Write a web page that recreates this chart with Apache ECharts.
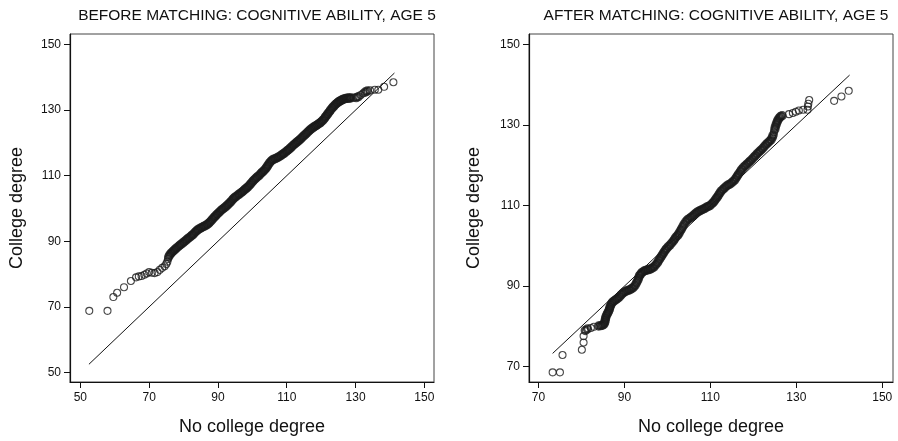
<!DOCTYPE html>
<html>
<head>
<meta charset="utf-8">
<script src="https://cdn.jsdelivr.net/npm/echarts@6/dist/echarts.min.js"></script>
<style>
  html, body { margin: 0; padding: 0; background: #fff; }
  #chart { width: 898px; height: 441px; }
</style>
</head>
<body>
<div id="chart"></div>
<script>
// Q-Q pairs: [no college degree, college degree]
const beforeQuantiles = [
  [52.6, 68.8], [57.9, 68.8], [59.6, 73.0], [60.7, 74.3], [62.7, 76.0], [64.7, 77.9],
  [66.2, 79.0], [67.0, 79.3], [67.8, 79.4], [68.6, 79.8], [69.3, 80.2], [70.0, 80.6],
  [70.8, 80.4], [71.6, 80.3], [72.4, 80.6], [73.1, 81.3], [73.8, 81.9], [74.5, 82.4],
  [75.0, 83.1], [75.3, 83.8], [75.5, 84.6], [75.7, 85.3], [76.0, 85.9], [76.4, 86.4],
  [76.8, 86.8], [77.2, 87.2], [77.6, 87.6], [78.0, 88.0], [78.5, 88.4], [78.9, 88.8],
  [79.3, 89.1], [79.8, 89.5], [80.2, 89.9], [80.7, 90.3], [81.1, 90.7], [81.5, 91.0],
  [82.0, 91.4], [82.4, 91.8], [82.8, 92.1], [83.2, 92.6], [83.6, 93.0], [84.0, 93.4],
  [84.4, 93.7], [84.9, 94.0], [85.3, 94.2], [85.8, 94.5], [86.2, 94.7], [86.7, 95.0],
  [87.1, 95.3], [87.5, 95.7], [87.9, 96.1], [88.3, 96.6], [88.7, 97.1], [89.1, 97.5],
  [89.5, 98.0], [89.9, 98.4], [90.4, 98.9], [90.8, 99.3], [91.2, 99.7], [91.6, 100.0],
  [92.1, 100.4], [92.5, 100.8], [92.9, 101.2], [93.3, 101.6], [93.7, 102.0], [94.1, 102.5],
  [94.5, 103.0], [94.9, 103.4], [95.3, 103.7], [95.8, 104.1], [96.2, 104.4], [96.7, 104.8],
  [97.1, 105.1], [97.5, 105.5], [97.9, 105.9], [98.3, 106.2], [98.7, 106.6], [99.1, 107.0],
  [99.5, 107.5], [99.9, 108.0], [100.3, 108.5], [100.7, 108.9], [101.1, 109.3], [101.5, 109.7],
  [102.0, 110.1], [102.4, 110.6], [102.8, 111.0], [103.2, 111.4], [103.6, 111.8], [104.0, 112.3],
  [104.3, 112.8], [104.6, 113.3], [105.0, 113.9], [105.4, 114.4], [105.8, 114.8], [106.2, 115.0],
  [106.7, 115.2], [107.2, 115.5], [107.6, 115.7], [108.1, 116.0], [108.5, 116.3], [108.9, 116.6],
  [109.3, 116.9], [109.8, 117.3], [110.2, 117.7], [110.6, 118.0], [111.0, 118.4], [111.4, 118.8],
  [111.8, 119.2], [112.2, 119.6], [112.6, 119.9], [113.0, 120.3], [113.4, 120.6], [113.8, 121.0],
  [114.2, 121.4], [114.6, 121.8], [115.0, 122.2], [115.4, 122.6], [115.8, 123.0], [116.2, 123.4],
  [116.6, 123.8], [117.0, 124.2], [117.4, 124.5], [117.8, 124.8], [118.2, 125.1], [118.6, 125.3],
  [119.0, 125.6], [119.4, 125.9], [119.8, 126.2], [120.2, 126.6], [120.6, 127.0], [121.0, 127.5],
  [121.3, 128.0], [121.7, 128.5], [122.0, 129.0], [122.4, 129.5], [122.7, 130.0], [123.1, 130.5],
  [123.4, 130.9], [123.8, 131.3], [124.1, 131.7], [124.5, 132.0], [124.8, 132.3], [125.2, 132.6],
  [125.5, 132.8], [125.9, 133.0], [126.2, 133.2], [126.6, 133.4], [127.0, 133.5], [127.4, 133.6],
  [127.8, 133.6], [128.2, 133.7], [128.6, 133.7], [129.4, 133.8], [130.2, 133.8], [130.8, 134.1],
  [131.5, 134.6], [132.2, 135.1], [132.8, 135.5], [133.4, 135.8], [134.2, 136.0], [135.6, 136.2],
  [136.6, 136.2], [138.3, 137.1], [141.0, 138.5]
];

const afterQuantiles = [
  [73.3, 68.6], [75.0, 68.6], [75.6, 72.9], [80.1, 74.2], [80.5, 76.0], [80.5, 77.6],
  [80.9, 79.0], [81.4, 79.4], [82.2, 79.6], [82.9, 79.9], [84.0, 80.1],
  [84.5, 80.2], [84.9, 80.3], [85.2, 80.5], [85.4, 80.9], [85.5, 81.4], [85.6, 81.9],
  [85.7, 82.4], [85.9, 82.9], [86.1, 83.3], [86.3, 83.7], [86.5, 84.2], [86.6, 84.7],
  [86.8, 85.2], [87.0, 85.7], [87.3, 86.1], [87.7, 86.4], [88.1, 86.7], [88.5, 87.0],
  [88.9, 87.4], [89.3, 87.9], [89.7, 88.3], [90.1, 88.6], [90.5, 88.8], [90.9, 89.0],
  [91.3, 89.1], [91.7, 89.4], [92.1, 89.7], [92.5, 90.2], [92.8, 90.8], [93.1, 91.4],
  [93.3, 92.0], [93.5, 92.6], [93.8, 93.0], [94.1, 93.4], [94.5, 93.7], [94.9, 93.9],
  [95.3, 94.0], [95.7, 94.1], [96.1, 94.3], [96.5, 94.5], [96.9, 94.8], [97.3, 95.3],
  [97.7, 95.8], [98.0, 96.4], [98.3, 96.9], [98.6, 97.4], [98.9, 97.9], [99.2, 98.4],
  [99.5, 98.9], [99.8, 99.3], [100.2, 99.8], [100.6, 100.2], [101.0, 100.7], [101.4, 101.2],
  [101.7, 101.7], [102.0, 102.2], [102.4, 102.6], [102.7, 103.1], [103.0, 103.7], [103.3, 104.2],
  [103.6, 104.8], [103.9, 105.4], [104.3, 106.0], [104.7, 106.5], [105.1, 106.8], [105.5, 107.1],
  [105.9, 107.4], [106.3, 107.8], [106.7, 108.2], [107.1, 108.5], [107.5, 108.7], [107.9, 108.9],
  [108.3, 109.1], [108.7, 109.3], [109.1, 109.6], [109.5, 109.8], [109.9, 110.0], [110.3, 110.4],
  [110.7, 110.8], [111.0, 111.2], [111.3, 111.7], [111.6, 112.1], [111.9, 112.6], [112.2, 113.1],
  [112.5, 113.6], [112.9, 114.0], [113.3, 114.4], [113.7, 114.8], [114.1, 115.1], [114.5, 115.3],
  [114.9, 115.6], [115.3, 116.0], [115.7, 116.4], [116.0, 116.9], [116.3, 117.4], [116.6, 117.9],
  [117.0, 118.5], [117.3, 119.0], [117.7, 119.5], [118.1, 119.9], [118.5, 120.3], [118.9, 120.7],
  [119.3, 121.1], [119.7, 121.5], [120.1, 122.0], [120.5, 122.4], [120.9, 122.9], [121.3, 123.3],
  [121.7, 123.7], [122.1, 124.1], [122.5, 124.6], [122.9, 125.1], [123.3, 125.5], [123.7, 125.9],
  [124.1, 126.3], [124.4, 126.9], [124.6, 127.5], [124.8, 128.2], [125.0, 128.9], [125.1, 129.5],
  [125.3, 130.1], [125.5, 130.7], [125.7, 131.2], [126.0, 131.7], [126.3, 132.1], [126.7, 132.3],
  [128.3, 132.7], [129.2, 133.0], [129.9, 133.3], [130.6, 133.6], [131.6, 133.8], [132.6, 133.8],
  [132.7, 134.6], [132.8, 135.3], [133.0, 136.2], [138.8, 136.0], [140.5, 137.1], [142.2, 138.5]
];

// 45-degree reference lines (span of the no-college quantiles)
const beforeDiagonal = [[52.5, 52.5], [141.3, 141.3]];
const afterDiagonal = [[73.3, 73.3], [142.4, 142.4]];

const beforeTicks = [50, 70, 90, 110, 130, 150];
const afterXTicks = [70, 90, 110, 130, 150];
const afterYTicks = [70, 90, 110, 130, 150];

const titles = [
  'BEFORE MATCHING: COGNITIVE ABILITY, AGE 5',
  'AFTER MATCHING: COGNITIVE ABILITY, AGE 5'
];
const xName = 'No college degree';
const yName = 'College degree';

const FONT = 'Liberation Sans, Arial, Helvetica, sans-serif';
const chart = echarts.init(document.getElementById('chart'), null, { renderer: 'canvas' });

function axis(ticks, min, max, gridIndex, isX, gap) {
  return {
    type: 'value',
    gridIndex: gridIndex,
    min: min,
    max: max,
    name: isX ? xName : yName,
    nameLocation: 'middle',
    nameGap: gap,
    nameTextStyle: { fontFamily: FONT, fontSize: 18, color: '#111' },
    axisLine: { show: true, onZero: false, lineStyle: { color: '#111', width: 1.2 } },
    axisTick: { show: true, inside: false, length: 6, customValues: ticks,
      lineStyle: { color: '#111', width: 1 } },
    axisLabel: { customValues: ticks, fontFamily: FONT, fontSize: 12, color: '#111',
      margin: isX ? 10 : 9 },
    splitLine: { show: false }
  };
}

// where the observations pile up the hollow circles merge into a solid band,
// so points with a close neighbour get a heavier outline
function styled(points) {
  return points.map(function (p, i) {
    let nearest = Infinity;
    points.forEach(function (q, j) {
      if (i !== j) nearest = Math.min(nearest, Math.hypot(p[0] - q[0], p[1] - q[1]));
    });
    return { value: p, itemStyle: { borderWidth: nearest < 0.7 ? 2.4 : 1.1 } };
  });
}

const circle = {
  symbol: 'circle',
  symbolSize: 7,
  itemStyle: { color: 'rgba(0,0,0,0)', borderColor: '#1a1a1a', borderWidth: 1.1 }
};

const option = {
  animation: false,
  backgroundColor: '#fff',
  title: [
    { text: titles[0], left: 252, top: 3, textAlign: 'center',
      textStyle: { fontFamily: FONT, fontSize: 15.5, fontWeight: 'normal', color: '#111' } },
    { text: titles[1], left: 711, top: 3, textAlign: 'center',
      textStyle: { fontFamily: FONT, fontSize: 15.5, fontWeight: 'normal', color: '#111' } }
  ],
  grid: [
    { left: 70, top: 34, width: 364, height: 352, show: true, borderColor: '#444', borderWidth: 1 },
    { left: 529, top: 34, width: 364, height: 353, show: true, borderColor: '#444', borderWidth: 1 }
  ],
  xAxis: [
    axis(beforeTicks, 47, 152.8, 0, true, 36),
    axis(afterXTicks, 67.8, 152.5, 1, true, 36)
  ],
  yAxis: [
    axis(beforeTicks, 47.1, 153.2, 0, false, 44),
    axis(afterYTicks, 66.2, 152.6, 1, false, 46)
  ],
  series: [
    { type: 'line', xAxisIndex: 0, yAxisIndex: 0, data: beforeDiagonal, symbol: 'none',
      lineStyle: { color: '#111', width: 1 }, z: 1 },
    Object.assign({ type: 'scatter', xAxisIndex: 0, yAxisIndex: 0, data: styled(beforeQuantiles), z: 2 }, circle),
    { type: 'line', xAxisIndex: 1, yAxisIndex: 1, data: afterDiagonal, symbol: 'none',
      lineStyle: { color: '#111', width: 1 }, z: 1 },
    Object.assign({ type: 'scatter', xAxisIndex: 1, yAxisIndex: 1, data: styled(afterQuantiles), z: 2 }, circle)
  ]
};

chart.setOption(option);
</script>
</body>
</html>
